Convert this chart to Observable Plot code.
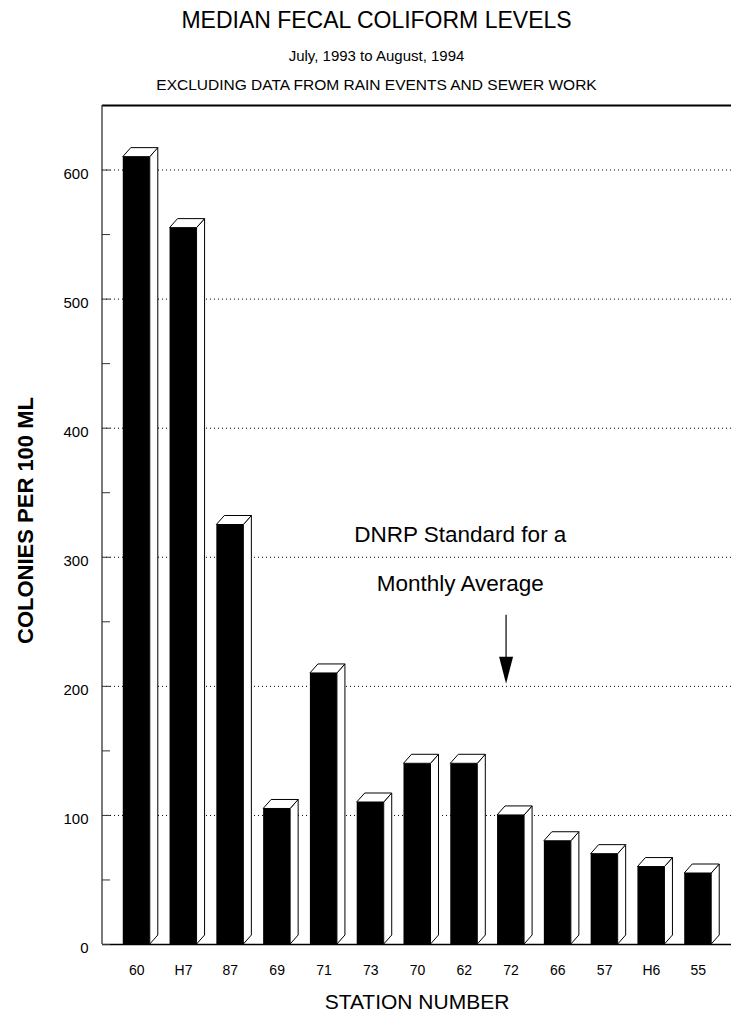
<!DOCTYPE html>
<html>
<head>
<meta charset="utf-8">
<script src="https://cdn.jsdelivr.net/npm/d3@7"></script>
<script src="https://cdn.jsdelivr.net/npm/@observablehq/plot@0.6"></script>
<style>
  body { margin: 0; background: #fff; }
  svg { display: block; }
</style>
</head>
<body>
<div id="chart"></div>
<script>
// ---- data ----
const stations = ["60", "H7", "87", "69", "71", "73", "70", "62", "72", "66", "57", "H6", "55"];
const medians  = [610, 555, 325, 105, 210, 110, 140, 140, 100, 80, 70, 60, 55];
const yTickLabels = [0, 100, 200, 300, 400, 500, 600];
const yTickMarks  = [0, 50, 100, 150, 200, 250, 300, 350, 400, 450, 500, 550, 600];
const gridValues  = [100, 200, 300, 400, 500, 600];
const yMax = 650;

const titleLines = ["MEDIAN FECAL COLIFORM LEVELS", "July, 1993 to August, 1994", "EXCLUDING DATA FROM RAIN EVENTS AND SEWER WORK"];
const yLabel = "COLONIES PER 100 ML";
const xLabel = "STATION NUMBER";

const annotationLines = ["DNRP Standard for a", "Monthly Average"];
const annotationStation = ["62", "62"];
const annotationY = [312, 274];
const arrowStation = ["72"];
const arrowFrom = [255];
const arrowTo = [202];

// ---- style constants ----
const pad = 0.4225;
const depthX = 8, depthY = 9;
const font = "'Liberation Sans', Arial, Helvetica, sans-serif";

const rows = stations.map((s, i) => ({station: s, value: medians[i]}));

// 3D extrusion (side + top faces) drawn via the plot's scales
function extrusion(index, scales) {
  const x = scales.x, y = scales.y;
  const step = x(stations[1]) - x(stations[0]);
  const bw = step * (1 - pad);
  const g = d3.create("svg:g");
  for (const d of rows) {
    const xl = x(d.station), xr = xl + bw, yv = y(d.value), y0 = y(0);
    g.append("path")
      .attr("d", `M${xr},${y0}L${xr},${yv}L${xr + depthX},${yv - depthY}L${xr + depthX},${y0 - depthY}Z`)
      .attr("fill", "white").attr("stroke", "black").attr("stroke-width", 1).attr("stroke-linejoin", "round");
    g.append("path")
      .attr("d", `M${xl},${yv}L${xr},${yv}L${xr + depthX},${yv - depthY}L${xl + depthX},${yv - depthY}Z`)
      .attr("fill", "white").attr("stroke", "black").attr("stroke-width", 1).attr("stroke-linejoin", "round");
  }
  return g.node();
}

// left frame line along the y scale
function leftLine(index, scales, values, dimensions) {
  const y = scales.y;
  const x0 = dimensions.marginLeft;
  const g = d3.create("svg:g");
  g.append("line")
    .attr("x1", x0).attr("x2", x0)
    .attr("y1", y(0)).attr("y2", y(yMax))
    .attr("stroke", "#333").attr("stroke-width", 1.3);
  return g.node();
}

const arrowHead = {
  draw(ctx) {
    ctx.moveTo(-7, -27);
    ctx.lineTo(7, -27);
    ctx.lineTo(0, 0);
    ctx.closePath();
  }
};

const chart = Plot.plot({
  width: 731,
  height: 1011,
  marginTop: 105,
  marginBottom: 67,
  marginLeft: 102,
  marginRight: 0,
  style: {fontFamily: font, background: "white", color: "black"},
  x: {type: "band", domain: stations, range: [103, 731], padding: pad, round: false, label: null},
  y: {domain: [0, yMax], label: null},
  marks: [
    Plot.gridY(gridValues, {stroke: "black", strokeOpacity: 1, strokeDasharray: "1,3", strokeWidth: 1}),
    Plot.barY(rows, {x: "station", y: "value", fill: "black"}),
    extrusion,
    Plot.ruleY([0], {stroke: "black", strokeWidth: 1.3}),
    Plot.ruleY([yMax], {stroke: "black", strokeWidth: 2}),
    leftLine,
    Plot.axisY({ticks: yTickMarks, tickSize: -8, tickFormat: () => "", stroke: "#333", label: null}),
    Plot.axisY({ticks: yTickLabels, tickSize: 0, tickPadding: 14, fontSize: 15, dy: 4, label: null}),
    Plot.axisX({tickSize: 0, tickPadding: 21, fontSize: 14, label: null}),
    // titles
    Plot.text([titleLines[0]], {text: d => d, frameAnchor: "top-left", textAnchor: "middle", dx: 274, dy: -78, lineAnchor: "bottom", fontSize: 23}),
    Plot.text([titleLines[1]], {text: d => d, frameAnchor: "top-left", textAnchor: "middle", dx: 274, dy: -45, lineAnchor: "bottom", fontSize: 15}),
    Plot.text([titleLines[2]], {text: d => d, frameAnchor: "top-left", textAnchor: "middle", dx: 274, dy: -16, lineAnchor: "bottom", fontSize: 15.5}),
    // axis labels
    Plot.text([yLabel], {text: d => d, frameAnchor: "left", textAnchor: "middle", rotate: -90, dx: -77, dy: -4.5, fontSize: 22, fontWeight: "bold"}),
    Plot.text([xLabel], {text: d => d, frameAnchor: "bottom", dy: 64, lineAnchor: "bottom", fontSize: 21}),
    // annotation
    Plot.text(annotationLines, {text: d => d, x: annotationStation, y: annotationY, dx: -4, lineAnchor: "bottom", fontSize: 22.5}),
    Plot.ruleX(arrowStation, {x: d => d, y1: arrowFrom, y2: arrowTo.map(v => v + 12), dx: -5, stroke: "black", strokeWidth: 1.2}),
    Plot.dot(arrowStation, {x: d => d, y: arrowTo, symbol: arrowHead, fill: "black", stroke: "none", dx: -5})
  ]
});

document.getElementById("chart").appendChild(chart);
</script>
</body>
</html>
